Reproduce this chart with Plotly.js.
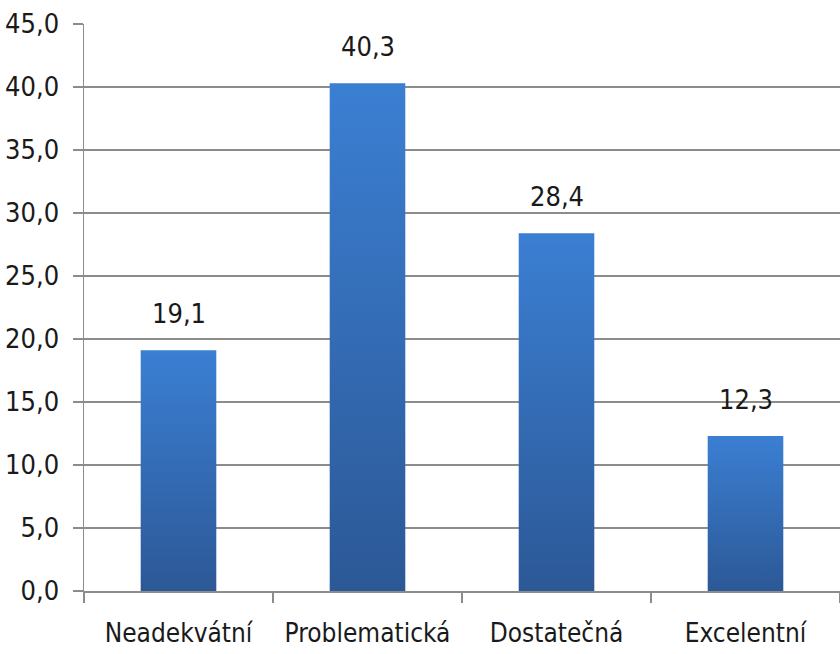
<!DOCTYPE html>
<html>
<head>
<meta charset="utf-8">
<script src="https://cdn.plot.ly/plotly-3.0.1.min.js"></script>
<style>html,body{margin:0;padding:0;background:#fff}#chart{width:840px;height:654px}</style>
</head>
<body>
<div id="chart"></div>
<script>
const categories = ["Neadekvátní", "Problematická", "Dostatečná", "Excelentní"];
const values = [19.1, 40.3, 28.4, 12.3];
const tickValues = [0, 5, 10, 15, 20, 25, 30, 35, 40, 45];

const FONT = '"DejaVu Sans Condensed", "Liberation Sans Narrow", Arial, sans-serif';

const trace = {
  type: 'bar',
  x: categories,
  y: values,
  marker: {color: '#3569b5', line: {width: 0}},
  hoverinfo: 'none'
};

const annotations = categories.map((c, i) => ({
  x: c, y: values[i], xref: 'x', yref: 'y',
  text: values[i].toFixed(1).replace('.', ','),
  showarrow: false, yanchor: 'bottom', yshift: 19,
  font: {family: FONT, size: 27, color: '#1a1a1a'}
}));

const layout = {
  width: 840, height: 654,
  margin: {l: 84, r: 0, t: 24, b: 63},
  paper_bgcolor: '#ffffff', plot_bgcolor: '#ffffff',
  separators: ', ',
  showlegend: false,
  bargap: 0.6,
  font: {family: FONT, size: 27, color: '#1a1a1a'},
  xaxis: {
    type: 'category',
    showline: true, linecolor: '#8c8c8c', linewidth: 1.5,
    ticks: 'outside', ticklen: 10, tickcolor: '#8c8c8c', tickwidth: 1.5,
    tickson: 'boundaries',
    ticklabelstandoff: 18,
    showgrid: false,
    tickfont: {family: FONT, size: 26, color: '#1a1a1a'},
    fixedrange: true
  },
  yaxis: {
    range: [0, 45],
    tickvals: tickValues,
    tickformat: '.1f',
    showline: true, linecolor: '#8c8c8c', linewidth: 1.5,
    ticks: 'outside', ticklen: 10, tickcolor: '#8c8c8c', tickwidth: 1.5,
    ticklabelstandoff: 8,
    showgrid: true, gridcolor: '#8c8c8c', gridwidth: 1.5,
    zeroline: false,
    tickfont: {family: FONT, size: 27, color: '#1a1a1a'},
    fixedrange: true
  },
  annotations: annotations
};

Plotly.newPlot('chart', [trace], layout, {staticPlot: true, displayModeBar: false}).then(gd => {
  const svg = gd.querySelector('svg.main-svg');
  const ns = 'http://www.w3.org/2000/svg';
  let defs = svg.querySelector('defs');
  if (!defs) { defs = document.createElementNS(ns, 'defs'); svg.insertBefore(defs, svg.firstChild); }
  const grad = document.createElementNS(ns, 'linearGradient');
  grad.setAttribute('id', 'barGrad');
  grad.setAttribute('x1', '0'); grad.setAttribute('y1', '0');
  grad.setAttribute('x2', '0'); grad.setAttribute('y2', '1');
  [['0', '#3b7fd3'], ['1', '#2c5896']].forEach(([o, c]) => {
    const s = document.createElementNS(ns, 'stop');
    s.setAttribute('offset', o); s.setAttribute('stop-color', c);
    grad.appendChild(s);
  });
  defs.appendChild(grad);
  gd.querySelectorAll('.bars .point path').forEach(p => { p.style.fill = 'url(#barGrad)'; });
});
</script>
</body>
</html>
